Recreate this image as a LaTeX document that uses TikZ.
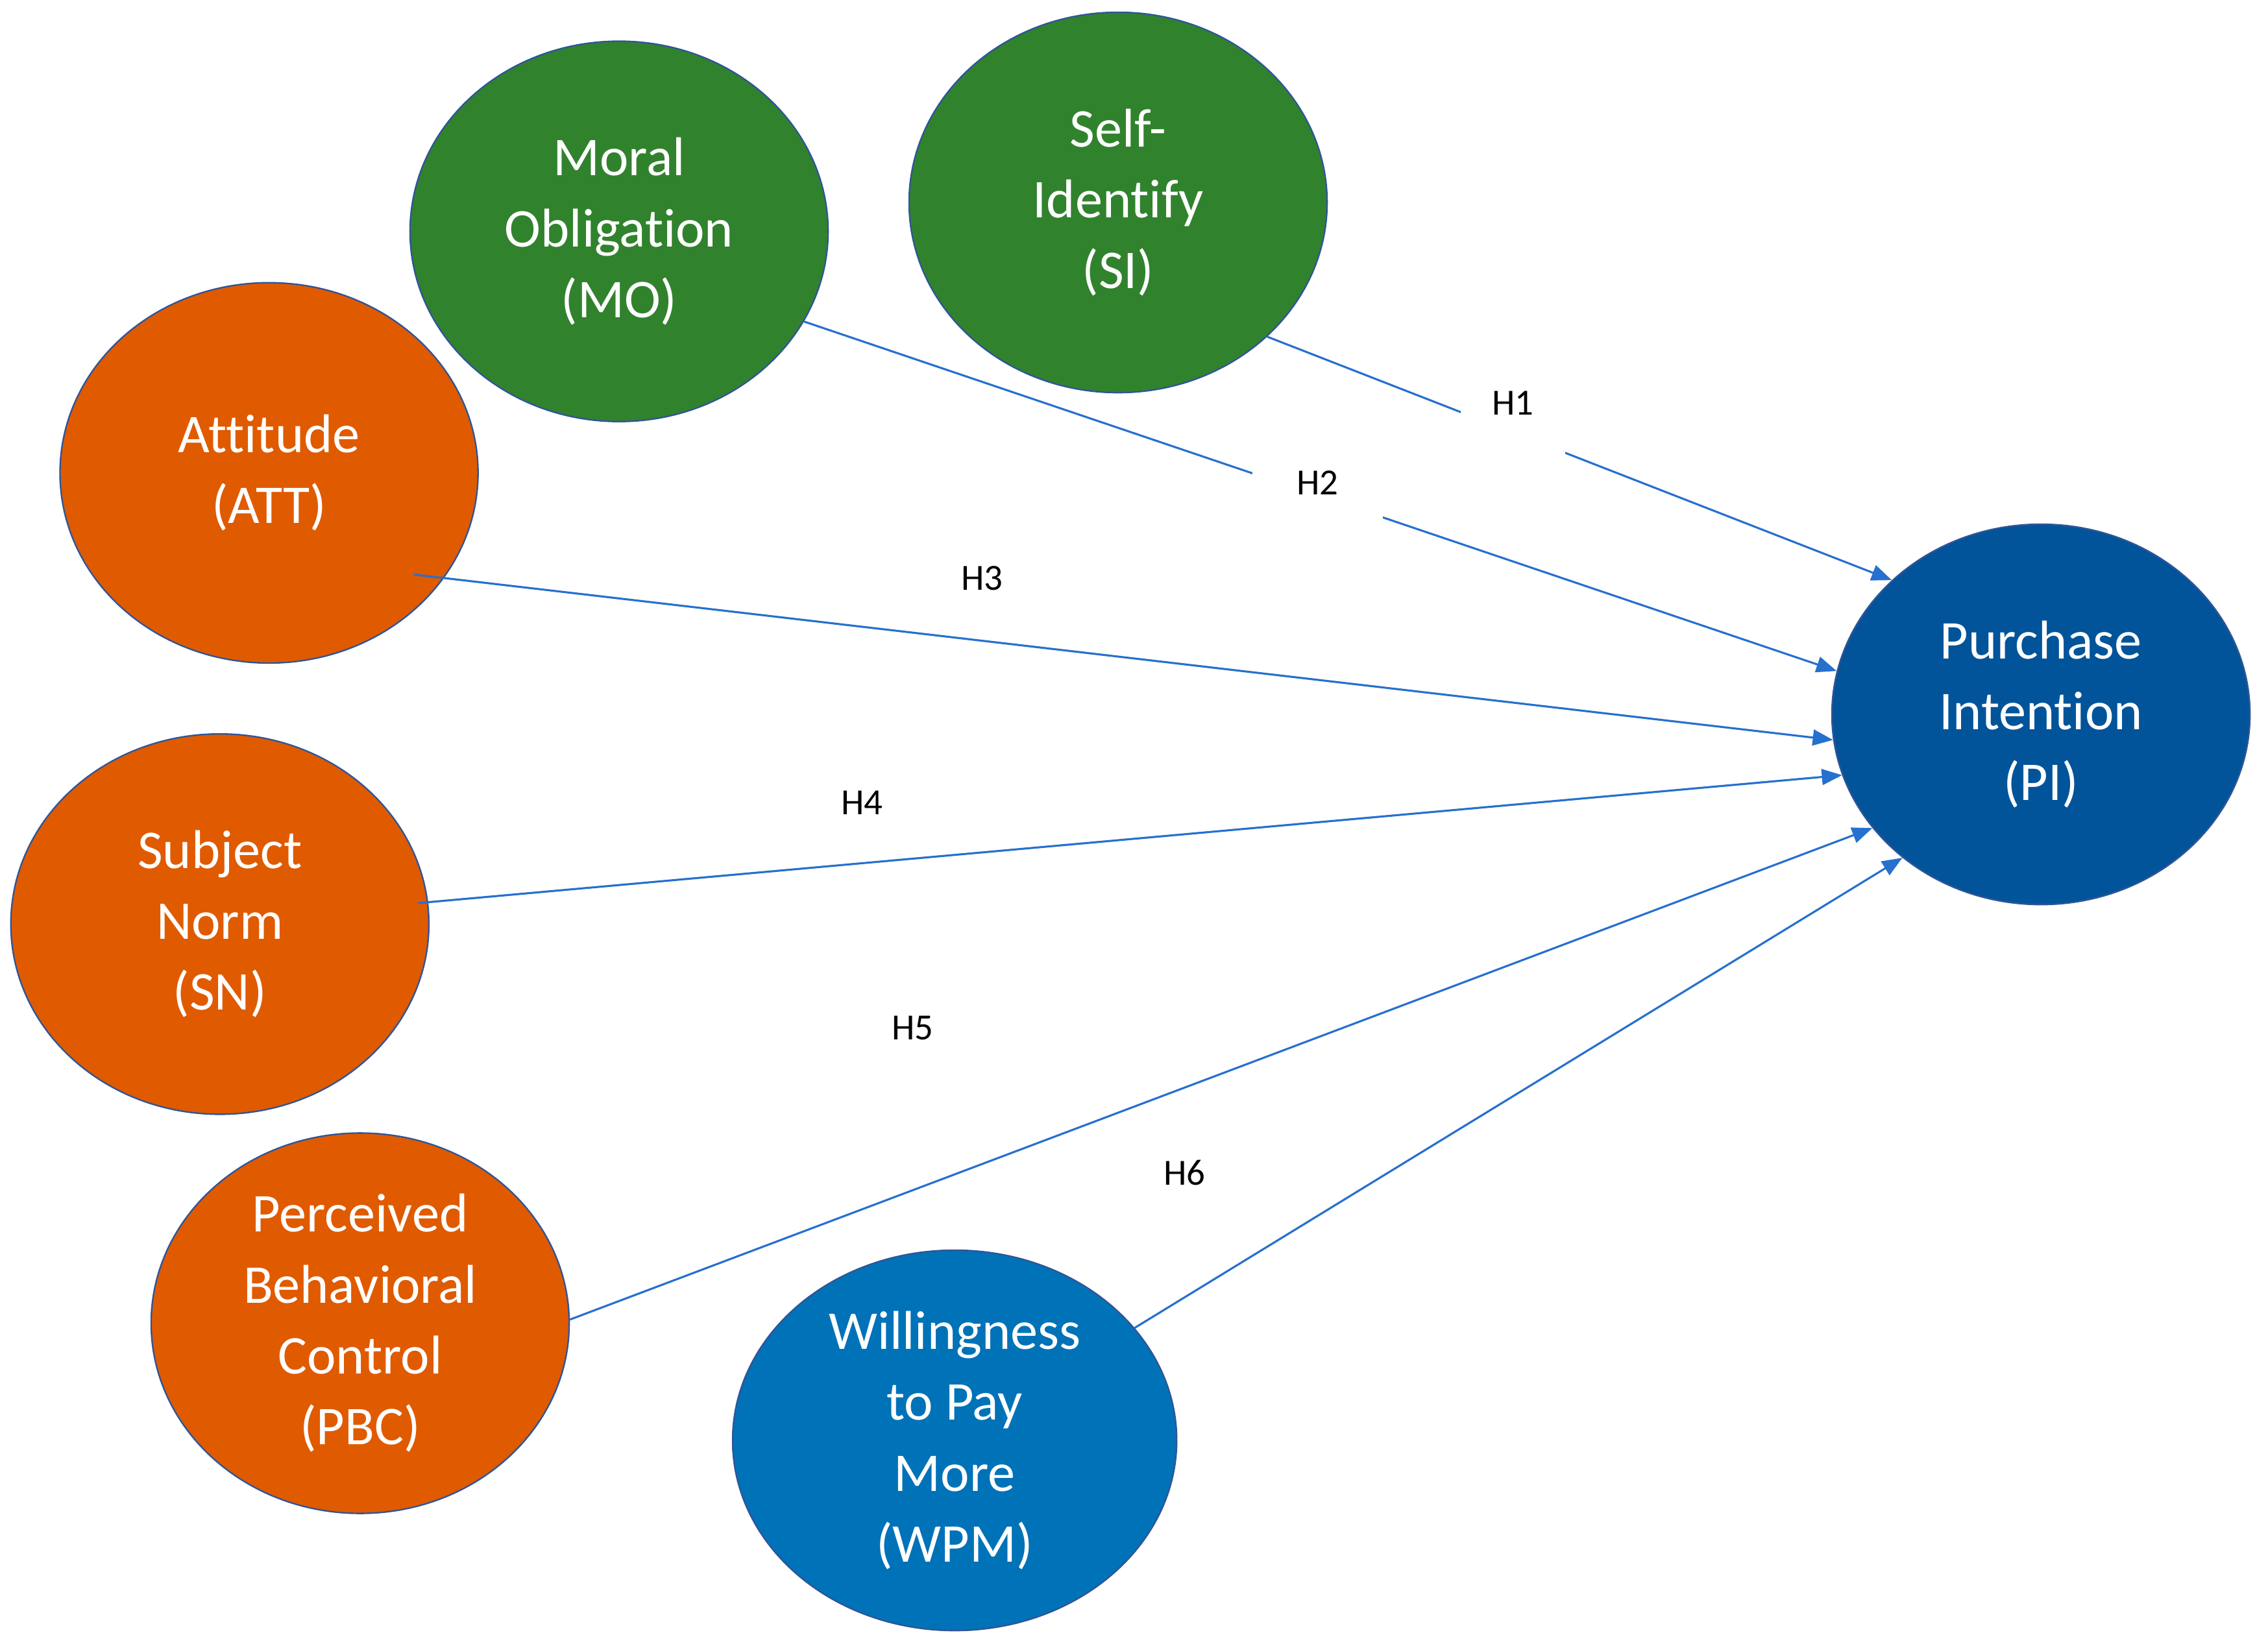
\documentclass[tikz,border=0pt]{standalone}
\usepackage{fontspec}
\setmainfont{Carlito}[Ligatures={NoCommon,NoContextual},RawFeature={-calt}]
\usetikzlibrary{shapes.geometric,arrows.meta}
\definecolor{moGreen}{RGB}{49,130,45}
\definecolor{attOrange}{RGB}{224,90,0}
\definecolor{piBlue}{RGB}{2,84,154}
\definecolor{wpmBlue}{RGB}{0,114,184}
\definecolor{rimBlue}{RGB}{47,85,151}
\definecolor{linkBlue}{RGB}{38,112,206}

\begin{document}
\begin{tikzpicture}[
  construct/.style={ellipse, draw=rimBlue, line width=0.6pt, inner sep=0pt, align=center,
    text=white, font=\fontsize{21.5}{27.9}\selectfont,
    minimum width=5.78cm, minimum height=5.26cm},
  link/.style={draw=linkBlue, line width=0.8pt, -{Triangle[length=0.28cm,width=0.22cm]}},
  hyp/.style={font=\fontsize{14.5}{16}\selectfont},
  gap/.style={hyp, fill=white, inner sep=1mm, anchor=base}
]
\useasboundingbox (0,0) rectangle (31.36,-22.76);

\node[construct, fill=moGreen] (si) at (15.46,-2.80) {Self-\\Identify\\(SI)};
\node[construct, fill=moGreen] (mo) at (8.56,-3.20) {Moral\\Obligation\\(MO)};
\node[construct, fill=attOrange] (att) at (3.72,-6.54) {Attitude\\(ATT)};
\node[construct, fill=attOrange] (sn) at (3.04,-12.78) {Subject\\Norm\\(SN)};
\node[construct, fill=attOrange] (pbc) at (4.98,-18.30) {Perceived\\Behavioral\\Control\\(PBC)};
\node[construct, fill=wpmBlue, minimum width=6.14cm] (wpm) at (13.20,-19.92) {Willingness\\to Pay\\More\\(WPM)};
\node[construct, fill=piBlue] (pi) at (28.22,-9.88) {Purchase\\Intention\\(PI)};

\draw[link] (si.-42) -- (pi.138);
\draw[link] (mo.-26) -- (pi.168);
\draw[link, shorten <=-0.42cm] (att.-31) -- (pi.187);
\draw[link, shorten <=-0.14cm] (sn.6) -- (pi.197);
\draw[link] (pbc.1) -- (pi.214);
\draw[link] (wpm.32) -- (pi.226);

\node[gap, minimum width=1.44cm, text depth=0.55cm] (h1) at (20.92,-5.74) {H1};
\node[gap, minimum width=1.8cm, text depth=0.35cm] (h2) at (18.22,-6.84) {H2};
\node[hyp] (h3) at (13.58,-8.00) {H3};
\node[hyp] (h4) at (11.92,-11.10) {H4};
\node[hyp] (h5) at (12.62,-14.22) {H5};
\node[hyp] (h6) at (16.38,-16.22) {H6};

\end{tikzpicture}
\end{document}
